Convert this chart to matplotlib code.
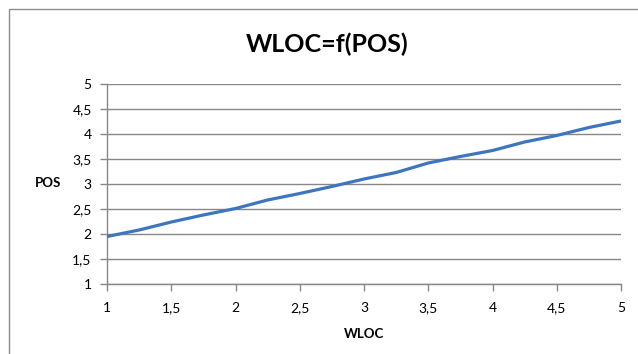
import matplotlib
matplotlib.use('Agg')
import matplotlib.pyplot as plt
from matplotlib.patches import Rectangle

# Data
wloc = [1.0, 1.25, 1.5, 1.75, 2.0, 2.25, 2.5, 2.75, 3.0,
        3.25, 3.5, 3.75, 4.0, 4.25, 4.5, 4.75, 5.0]
pos = [1.95, 2.08, 2.24, 2.38, 2.51, 2.68, 2.81, 2.95, 3.10,
       3.23, 3.42, 3.55, 3.67, 3.84, 3.97, 4.13, 4.26]

ticks = [1, 1.5, 2, 2.5, 3, 3.5, 4, 4.5, 5]
tick_labels = ['1', '1,5', '2', '2,5', '3', '3,5', '4', '4,5', '5']

plt.rcParams['font.family'] = ['Lato', 'DejaVu Sans']

fig = plt.figure(figsize=(6.38, 3.54), dpi=100)
ax = fig.add_axes([107/638, 1 - 284/354, 514/638, 200/354])

# outer chart frame (Excel style)
fig.patches.append(Rectangle((8.5/638, -0.1), 1.1, 0.1 + 1 - 9.5/354,
                             transform=fig.transFigure, fill=False,
                             edgecolor='#8c8c8c', linewidth=1.0))

grid_col = '#878787'
ax.plot(wloc, pos, color='#3d76bf', linewidth=2.3, solid_capstyle='butt', zorder=3)

ax.set_xlim(1, 5)
ax.set_ylim(1, 5)
ax.set_xticks(ticks)
ax.set_xticklabels(tick_labels)
ax.set_yticks(ticks)
ax.set_yticklabels(tick_labels)
ax.yaxis.grid(True, color=grid_col, linewidth=1.0)
ax.set_axisbelow(True)

for s in ['top', 'right']:
    ax.spines[s].set_visible(False)
for s in ['left', 'bottom']:
    ax.spines[s].set_color(grid_col)
    ax.spines[s].set_linewidth(1.0)

ax.tick_params(axis='both', colors=grid_col, labelcolor='black',
               length=5, width=1.0, labelsize=10)
ax.tick_params(axis='y', pad=6)
ax.tick_params(axis='x', pad=8)

# title
fig.text(327/638, 1 - 44/354, 'WLOC=f(POS)', fontsize=18, fontweight='bold',
         ha='center', va='center')
ax.set_xlabel('WLOC', fontsize=9.5, fontweight='bold', labelpad=10)
ax.set_ylabel('POS', fontsize=9.5, fontweight='bold', rotation=0,
              labelpad=0)
ax.yaxis.set_label_coords(-(107 - 48) / 514, (284 - 183) / 200)
ax.yaxis.label.set_ha('center')
ax.yaxis.label.set_va('center')

fig.savefig('out.png', dpi=100)
